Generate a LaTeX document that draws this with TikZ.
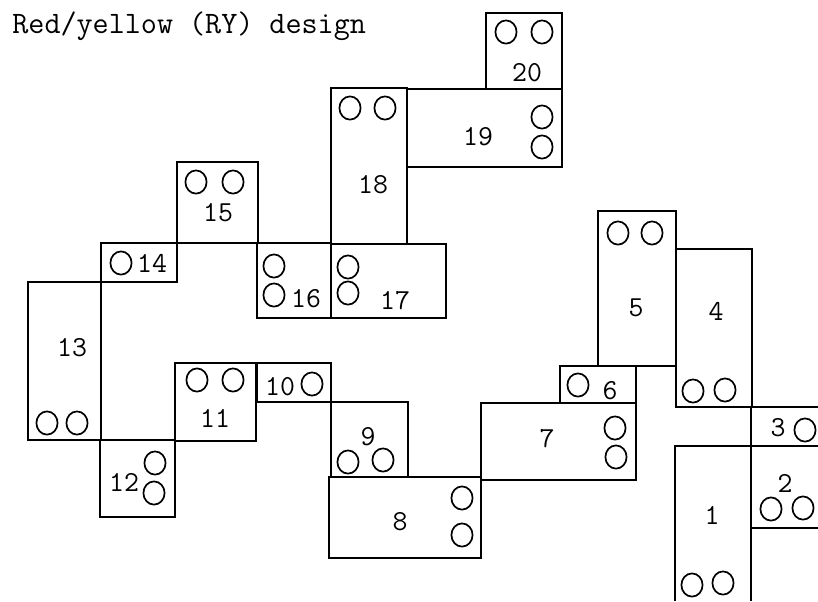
\documentclass[tikz,border=0pt]{standalone}
\begin{document}
\begin{tikzpicture}[x=0.5pt,y=-0.5pt,
tile/.style={draw,line width=0.9pt,line join=miter},
hole/.style={draw,line width=0.85pt},
num/.style={inner sep=0pt,font=\fontsize{14.5}{17}\selectfont\ttfamily}]
\useasboundingbox (0,0) rectangle (818,601);
\node[anchor=base west,inner sep=0pt,font=\fontsize{15.6}{18}\selectfont\ttfamily] (title) at (12,33) {Red/yellow (RY) design};
% tiles
\draw[tile] (486,13) rectangle (562,89);
\draw[tile] (407,89) rectangle (562,167);
\draw[tile] (331,88) rectangle (407,244);
\draw[tile] (177,162) rectangle (258,243);
\draw[tile] (101,243) rectangle (177,282);
\draw[tile] (257,243) rectangle (331,318);
\draw[tile] (331,244) rectangle (446,318);
\draw[tile] (28,282) rectangle (101,440);
\draw[tile] (100,440) rectangle (175,517);
\draw[tile] (175,363) rectangle (256,441);
\draw[tile] (257,363) rectangle (331,402);
\draw[tile] (331,402) rectangle (408,477);
\draw[tile] (329,477) rectangle (481,558);
\draw[tile] (481,403) rectangle (636,480);
\draw[tile] (560,366) rectangle (636,403);
\draw[tile] (598,211) rectangle (676,366);
\draw[tile] (676,249) rectangle (752,407);
% tiles cut by the page edge
\draw[tile] (818,407) -- (751,407) -- (751,446) -- (818,446);
\draw[tile] (818,446) -- (751,446) -- (751,528) -- (818,528);
\draw[tile] (675,601) -- (675,446) -- (751,446) -- (751,601);
% numbers
\node[num] (n1) at (712,515) {1};
\node[num] (n2) at (785,483) {2};
\node[num] (n3) at (778,428) {3};
\node[num] (n4) at (716,311) {4};
\node[num] (n5) at (636,308) {5};
\node[num] (n6) at (610,391) {6};
\node[num] (n7) at (547,439) {7};
\node[num] (n8) at (400,522) {8};
\node[num] (n9) at (368,437) {9};
\node[num] (n10) at (280,387) {10};
\node[num] (n11) at (215,418) {11};
\node[num] (n12) at (124,482) {12};
\node[num] (n13) at (72,348) {13};
\node[num] (n14) at (152,263) {14};
\node[num] (n15) at (218,213) {15};
\node[num] (n16) at (306,299) {16};
\node[num] (n17) at (395,301) {17};
\node[num] (n18) at (373,185) {18};
\node[num] (n19) at (478,137) {19};
\node[num] (n20) at (527,73) {20};
% holes
\foreach \x/\y in {506/32,542/32, 542/117,542/147, 350/108,385/108,
  196/182,233/182, 121/263, 274/266,274/295, 348/267,348/293,
  47/423,77/423, 155/463,154/493, 197/380,233/380, 312/384,
  348/462,383/460, 462/498,462/535, 615/428,616/457, 578/385,
  618/233,652/233, 693/391,725/390, 805/430, 771/509,803/508,
  692/585,723/583}
  \draw[hole] (\x,\y) ellipse [x radius=5.3pt,y radius=5.8pt];
\end{tikzpicture}
\end{document}
